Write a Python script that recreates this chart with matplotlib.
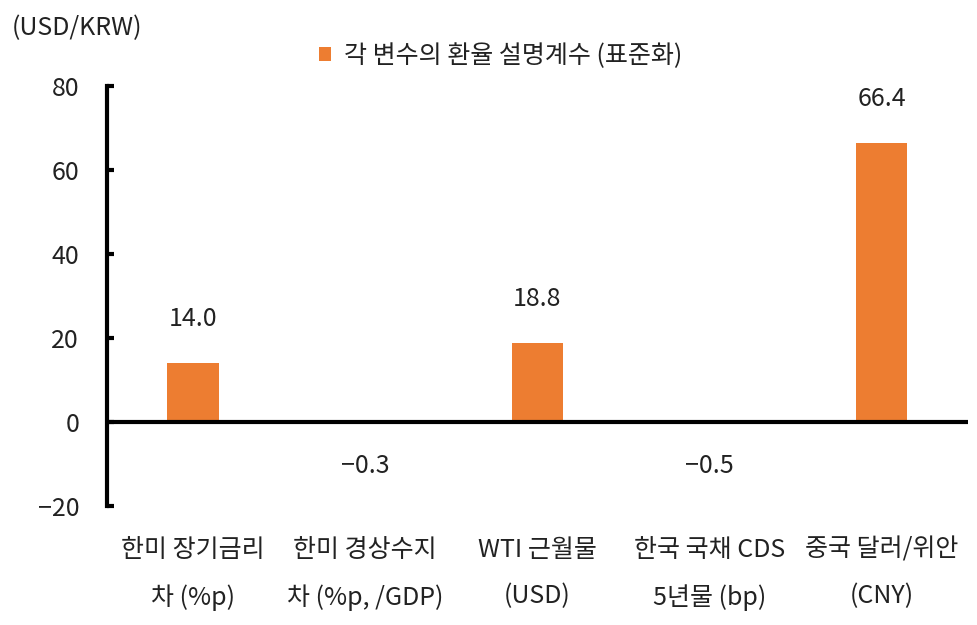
import numpy as np
import matplotlib.pyplot as plt

plt.rcParams['font.family'] = ['Noto Sans CJK KR', 'DejaVu Sans']
plt.rcParams['font.weight'] = 'light'

# data
categories = ['한미 장기금리\n차 (%p)', '한미 경상수지\n차 (%p, /GDP)', 'WTI 근월물\n(USD)',
              '한국 국채 CDS\n5년물 (bp)', '중국 달러/위안\n(CNY)']
values = [14.0, -0.3, 18.8, -0.5, 66.4]
labels = ['14.0', '-0.3', '18.8', '-0.5', '66.4']
yticks = [-20, 0, 20, 40, 60, 80]

bar_color = '#ED7D31'
fs = 18

fig = plt.figure(figsize=(9.77, 6.25), dpi=100)
ax = fig.add_axes([0.1095, 0.1904, 0.881, 0.672])

x = np.arange(len(categories))
ax.bar(x, values, width=0.3, color=bar_color, zorder=2,
       label='각 변수의 환율 설명계수 (표준화)')
ax.axhline(0, color='black', lw=3, zorder=3)

# value labels
for xi, v, lab in zip(x, values, labels):
    off = 32 if v >= 0 else -32
    ax.annotate(lab.replace('-', '\u2212'), (xi, max(v, 0)), xytext=(0, off),
                textcoords='offset points', ha='center', va='center',
                fontsize=fs, color='#222222')

ax.set_xlim(-0.5, len(categories) - 0.5)
ax.set_ylim(-20, 80)
ax.set_yticks(yticks)
ax.set_yticklabels([str(t).replace('-', '\u2212') for t in yticks], fontsize=fs, color='#222222')
ax.set_xticks(x)
ax.set_xticklabels(categories, fontsize=fs, color='#222222', linespacing=2.05)
ax.tick_params(axis='x', length=0, pad=22)
ax.tick_params(axis='y', direction='in', length=5, width=3, pad=20)

for s in ['top', 'right', 'bottom']:
    ax.spines[s].set_visible(False)
ax.spines['left'].set_linewidth(3)

fig.text(0.012, 0.955, '(USD/KRW)', fontsize=fs, color='#222222', va='center')
ax.legend(loc='center', bbox_to_anchor=(0.457, 1.072), frameon=False, fontsize=fs,
          handlelength=0.5, handleheight=0.5, handletextpad=0.5, labelcolor='#222222')

fig.savefig('out.png', dpi=100)
